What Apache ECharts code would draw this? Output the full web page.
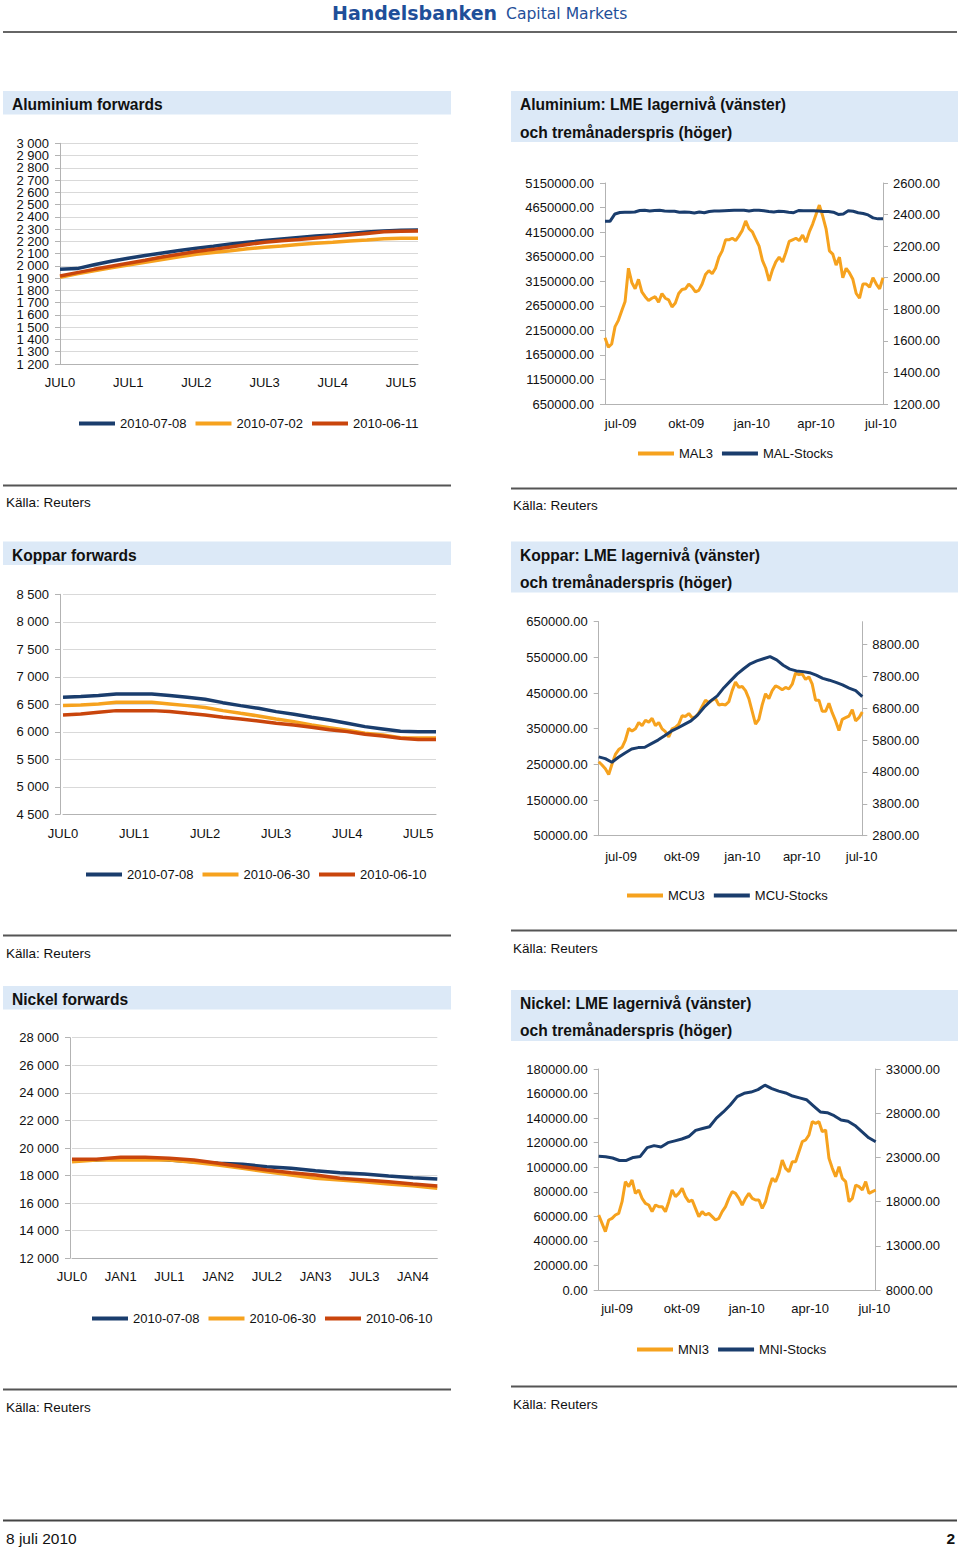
<!DOCTYPE html>
<html><head><meta charset="utf-8">
<script src="https://cdn.jsdelivr.net/npm/echarts@6/dist/echarts.min.js"></script>
<style>html,body{margin:0;padding:0;background:#fff;}#c{width:960px;height:1549px;}</style>
</head><body><div id="c"></div>
<script>
// ---------- DATA ----------
const fwdCategories = ['JUL0','OKT0','JAN1','APR1','JUL1','OKT1','JAN2','APR2','JUL2','OKT2','JAN3','APR3','JUL3','OKT3','JAN4','APR4','JUL4','OKT4','JAN5','APR5','JUL5','OKT5'];
const niCategories = ['JUL0','OKT0','JAN1','APR1','JUL1','OKT1','JAN2','APR2','JUL2','OKT2','JAN3','APR3','JUL3','OKT3','JAN4','APR4'];

const alNames = ['2010-07-08','2010-07-02','2010-06-11'];
const alFwd0708 = [1973,1978,2010,2038,2063,2085,2105,2125,2144,2160,2178,2193,2207,2220,2232,2243,2253,2265,2276,2284,2290,2292];
const alFwd0702 = [1908,1935,1960,1985,2008,2030,2053,2075,2095,2110,2124,2140,2152,2163,2175,2184,2193,2203,2212,2222,2226,2226];
const alFwd0611 = [1918,1945,1972,1998,2022,2046,2072,2095,2117,2135,2155,2175,2193,2205,2216,2228,2239,2252,2265,2278,2283,2285];
// y tick labels of the aluminium forwards chart (drawn in two groups so that none is auto-hidden)
const alFwdTicksMain = [1200,1400,1500,1600,1700,1800,1900,2000,2100,2200,2300,2400,2500,2600,2700,2800,3000];
const alFwdTicksExtra = [1300,2900];

const cuNames = ['2010-07-08','2010-06-30','2010-06-10'];
const cuFwd0708 = [6627,6640,6658,6688,6688,6688,6658,6627,6591,6530,6476,6427,6367,6318,6264,6215,6155,6094,6052,6009,6003,6003];
const cuFwd0630 = [6476,6488,6506,6536,6536,6536,6506,6476,6440,6385,6336,6288,6233,6185,6124,6076,6027,5973,5942,5894,5888,5888];
const cuFwd0610 = [6306,6324,6355,6385,6385,6385,6367,6336,6306,6264,6233,6197,6155,6124,6082,6039,6003,5955,5924,5882,5858,5858];

const niNames = ['2010-07-08','2010-06-30','2010-06-10'];
const niFwd0708 = [19130,19130,19250,19250,19130,19010,18890,18816,18647,18526,18357,18211,18115,17970,17849,17752];
const niFwd0630 = [19010,19130,19130,19130,19130,18960,18767,18526,18284,18042,17800,17680,17559,17390,17269,17075];
const niFwd0610 = [19178,19178,19323,19323,19250,19130,18890,18647,18405,18211,18042,17800,17680,17559,17390,17245];

// LME: three-month price (right axis) and stocks (left axis), evenly spaced over the date range
const alDates = ['2009-06-09','2010-07-04'];
const mal3 = [1620,1560,1580,1690,1730,1790,1850,2060,1970,1930,1990,1910,1880,1855,1870,1880,1845,1900,1870,1860,
  1815,1840,1900,1925,1930,1960,1940,1910,1920,1960,2020,2045,2025,2060,2130,2170,2240,2240,2250,2235,
  2265,2300,2360,2310,2290,2245,2200,2110,2060,1980,2050,2100,2130,2100,2160,2230,2240,2250,2235,2270,
  2225,2290,2340,2400,2460,2390,2310,2170,2150,2080,2130,2000,2060,2030,1990,1900,1870,1960,1960,1940,
  2000,1960,1930,2000];
const malStocks = [4370000,4370000,4520000,4550000,4555000,4555000,4560000,4590000,4595000,4580000,
  4590000,4595000,4580000,4575000,4575000,4555000,4560000,4555000,4540000,4560000,
  4545000,4570000,4580000,4580000,4585000,4590000,4595000,4595000,4595000,4580000,
  4595000,4595000,4585000,4570000,4560000,4575000,4570000,4555000,4545000,4590000,
  4585000,4585000,4585000,4580000,4570000,4570000,4555000,4510000,4520000,4585000,
  4575000,4545000,4530000,4500000,4440000,4420000,4420000];
const alLeftTicks = [650000,1150000,1650000,2150000,2650000,3150000,3650000,4150000,4650000,5150000];
const alRightTicks = [1200,1400,1600,1800,2000,2200,2400,2600];

const cuDates = ['2009-05-28','2010-07-02'];
const mcu3 = [5120,5016,4900,4720,5050,5350,5500,5570,5800,6160,6080,6150,6350,6250,6420,6360,6480,6250,6350,6150,
  6060,5900,6150,6200,6300,6560,6540,6630,6500,6520,6650,6850,7050,6980,7050,7100,6900,6920,6900,7000,
  7350,7620,7450,7480,7350,7100,6700,6300,6450,6900,7250,7100,7350,7500,7450,7380,7450,7400,7550,7900,
  7850,7870,7700,7780,7550,7050,7050,6700,6700,6950,6650,6400,6100,6450,6500,6550,6750,6400,6500,6680];
const mcuStocks = [271000,266000,256000,270000,282000,293000,297000,298000,308000,318000,
  330000,343000,352000,362000,372000,388000,410000,428000,442000,465000,
  484000,503000,518000,532000,540000,546000,552000,543000,528000,517000,
  512000,510000,507000,500000,491000,486000,480000,473000,464000,457000,440000];
const cuLeftTicks = [50000,150000,250000,350000,450000,550000,650000];
const cuRightTicks = [2800,3800,4800,5800,6800,7800,8800];

const niDates = ['2009-06-05','2010-07-03'];
const mni3 = [16484,15541,14599,15918,16107,16484,16673,17992,20255,19689,20443,18935,19312,18370,17804,17615,16861,17615,17427,17427,
  16861,17992,19312,18558,18935,19501,18558,17992,18181,17238,16296,16861,16484,16673,16296,15918,16107,16861,17427,18370,
  19124,18935,18370,17615,18370,18935,18370,18181,18181,17238,17992,19501,20632,20255,21198,22706,21763,21386,22517,22517,
  23648,24780,24968,25534,27042,26854,27042,25911,26100,22894,21763,20820,21952,20632,20255,17992,18370,19878,19689,19312,
  20255,18935,19124,19312];
const mniStocks = [109000,108600,107500,105500,105500,108000,108800,116000,117600,116500,
  120000,121500,123000,125000,130000,131500,133000,140000,145000,150700,
  157500,160200,161200,163200,166800,164000,162000,160500,158000,156500,
  155000,150000,145000,144400,142000,138500,137500,134000,129000,124000,120800];
const niLeftTicks = [0,20000,40000,60000,80000,100000,120000,140000,160000,180000];
const niRightTicks = [8000,13000,18000,23000,28000,33000];

const lmeTickDates = ['2009-07-01','2009-10-01','2010-01-01','2010-04-01','2010-07-01'];
const svMonths = ['jan','feb','mar','apr','maj','jun','jul','aug','sep','okt','nov','dec'];

// ---------- STYLE ----------
const FONT = '"Liberation Sans", Arial, Helvetica, sans-serif';
const C_BLUE = '#1a3d6d', C_ORANGE = '#f6a21e', C_RED = '#c9450c';
const AXIS_GREY = '#b3b3b3', GRID_GREY = '#d9d9d9', TXT = '#111';

function ts(s){ const p = s.split('-').map(Number); return Date.UTC(p[0], p[1]-1, p[2]); }
function spread(range, vals){ const a = ts(range[0]), b = ts(range[1]); return vals.map((v,i)=>[a + i*(b-a)/(vals.length-1), v]); }
function spaced(v){ return String(v).replace(/\B(?=(\d{3})+(?!\d))/g,' '); }
function monLabel(v){ const d = new Date(Number(v)); return svMonths[d.getUTCMonth()] + '-' + String(d.getUTCFullYear()).slice(2); }

const grids = [], xAxes = [], yAxes = [], series = [], legends = [];

function fwdChart(g, cats, labelInterval, yMin, yMax, yInt, offset, names, vals, lblMarginX, legendPos, mainTicks, extraTicks){
  const gi = grids.length;
  grids.push(Object.assign({outerBoundsMode:'none', containLabel:false}, g));
  const xi = xAxes.length, yi = yAxes.length;
  xAxes.push({type:'category', gridIndex:gi, data:cats, boundaryGap:false,
    axisLine:{show:true, lineStyle:{color:AXIS_GREY, width:1}}, axisTick:{show:false},
    axisLabel:{interval:labelInterval, color:TXT, fontSize:13, fontFamily:FONT, margin:lblMarginX},
    splitLine:{show:false}});
  const lbl = {color:TXT, fontSize:13, fontFamily:FONT, margin:11, formatter:spaced,
      showMinLabel:true, showMaxLabel:true, hideOverlap:false};
  if (mainTicks) lbl.customValues = mainTicks;
  yAxes.push({type:'value', gridIndex:gi, min:yMin, max:yMax, interval:yInt, offset:offset,
    axisLine:{show:true, lineStyle:{color:AXIS_GREY, width:1}},
    axisTick:{show:true, length:5, lineStyle:{color:AXIS_GREY}},
    axisLabel:lbl,
    splitLine:{show:true, lineStyle:{color:GRID_GREY, width:1}}});
  if (extraTicks) {
    yAxes.push({type:'value', gridIndex:gi, position:'left', min:yMin, max:yMax, interval:yInt, offset:offset,
      axisLine:{show:false}, axisTick:{show:false}, splitLine:{show:false},
      axisLabel:Object.assign({}, lbl, {customValues:extraTicks})});
  }
  const cols = [C_BLUE, C_ORANGE, C_RED];
  names.forEach((n,k)=>{
    series.push({type:'line', name:n, xAxisIndex:xi, yAxisIndex:yi, data:vals[k], color:cols[k],
      showSymbol:false, symbol:'none', lineStyle:{width:3.5, color:cols[k]}, animation:false, z:2+k});
  });
  legends.push(Object.assign({data:names}, legendPos));
}

function lmeChart(g, range, leftMin, leftMax, leftTicks, rightMin, rightMax, rightTicks, priceName, stockName, price, stocks, lblMarginX, legendPos){
  const gi = grids.length;
  grids.push(Object.assign({outerBoundsMode:'none', containLabel:false}, g));
  const xi = xAxes.length, yl = yAxes.length;
  const tickTs = lmeTickDates.map(ts);
  xAxes.push({type:'value', gridIndex:gi, min:ts(range[0]), max:ts(range[1]), scale:true,
    axisLine:{show:true, onZero:false, lineStyle:{color:AXIS_GREY, width:1}}, axisTick:{show:false},
    axisLabel:{customValues:tickTs, formatter:monLabel, color:TXT, fontSize:13, fontFamily:FONT, margin:lblMarginX, hideOverlap:false},
    splitLine:{show:false}, minorTick:{show:false}});
  yAxes.push({type:'value', gridIndex:gi, position:'left', min:leftMin, max:leftMax,
    axisLine:{show:true, onZero:false, lineStyle:{color:AXIS_GREY, width:1}},
    axisTick:{show:true, length:5, customValues:leftTicks, lineStyle:{color:AXIS_GREY}},
    axisLabel:{customValues:leftTicks, color:TXT, fontSize:13, fontFamily:FONT, margin:11, formatter:v=>Number(v).toFixed(2), hideOverlap:false},
    splitLine:{show:false}});
  yAxes.push({type:'value', gridIndex:gi, position:'right', min:rightMin, max:rightMax,
    axisLine:{show:true, onZero:false, lineStyle:{color:AXIS_GREY, width:1}},
    axisTick:{show:true, length:5, customValues:rightTicks, lineStyle:{color:AXIS_GREY}},
    axisLabel:{customValues:rightTicks, color:TXT, fontSize:13, fontFamily:FONT, margin:10, formatter:v=>Number(v).toFixed(2), hideOverlap:false},
    splitLine:{show:false}});
  series.push({type:'line', name:priceName, xAxisIndex:xi, yAxisIndex:yl+1, data:spread(range, price), color:C_ORANGE,
    showSymbol:false, symbol:'none', lineStyle:{width:3, color:C_ORANGE}, animation:false, z:2});
  series.push({type:'line', name:stockName, xAxisIndex:xi, yAxisIndex:yl, data:spread(range, stocks), color:C_BLUE,
    showSymbol:false, symbol:'none', lineStyle:{width:3, color:C_BLUE}, animation:false, z:3});
  legends.push(Object.assign({data:[priceName, stockName]}, legendPos));
}

fwdChart({left:60, top:143.3, width:358, height:220.7}, fwdCategories, 3, 1200, 3000, 100, 0, alNames,
  [alFwd0708, alFwd0702, alFwd0611], 11.5, {left:79, top:417}, alFwdTicksMain, alFwdTicksExtra);
lmeChart({left:605, top:183, width:278, height:221}, alDates, 650000, 5150000, alLeftTicks, 1200, 2600, alRightTicks,
  'MAL3', 'MAL-Stocks', mal3, malStocks, 12.5, {left:638, top:447});
fwdChart({left:63, top:594.3, width:373, height:220}, fwdCategories, 3, 4500, 8500, 500, 3, cuNames,
  [cuFwd0708, cuFwd0630, cuFwd0610], 12.5, {left:86, top:868});
lmeChart({left:598.7, top:621.7, width:263.6, height:214}, cuDates, 50000, 650000, cuLeftTicks, 2800, 9510, cuRightTicks,
  'MCU3', 'MCU-Stocks', mcu3, mcuStocks, 14.5, {left:627, top:889});
fwdChart({left:72, top:1037.7, width:365.3, height:220.6}, niCategories, 1, 12000, 28000, 2000, 2, niNames,
  [niFwd0708, niFwd0630, niFwd0610], 12, {left:92, top:1312});
lmeChart({left:598.7, top:1069, width:277, height:221}, niDates, 0, 180000, niLeftTicks, 8000, 33000, niRightTicks,
  'MNI3', 'MNI-Stocks', mni3, mniStocks, 12, {left:637, top:1343});

legends.forEach(l=>{
  Object.assign(l, {orient:'horizontal', padding:0, itemWidth:36, itemHeight:4, itemGap:9, icon:'rect',
    selectedMode:false, textStyle:{color:TXT, fontSize:13, fontFamily:FONT}});
});

// ---------- PAGE GRAPHICS ----------
function txt(x, y, t, font, fill, align){
  return {type:'text', x:x, y:y, silent:true,
    style:{text:t, font:font, fill:fill||TXT, textAlign:align||'left', textVerticalAlign:'middle'}};
}
function box(x, y, w, h, col){ return {type:'rect', silent:true, shape:{x:x, y:y, width:w, height:h}, style:{fill:col}}; }
function hline(x1, x2, y, col, w){ return {type:'line', silent:true, shape:{x1:x1, y1:y, x2:x2, y2:y}, style:{stroke:col, lineWidth:w}}; }

const TITLE_BG = '#dce9f7';
const TFONT = 'bold 15.6px ' + FONT;
const SFONT = '13.5px ' + FONT;
const graphics = [
  txt(332, 13, 'Handelsbanken', 'bold 19px "DejaVu Sans", sans-serif', '#1f4f99'),
  txt(506, 14, 'Capital Markets', '15.6px "DejaVu Sans", sans-serif', '#1f4f99'),
  hline(3, 957, 32, '#333', 1.5),

  box(3, 91, 448, 23.5, TITLE_BG), txt(12, 104, 'Aluminium forwards', TFONT),
  box(511, 91, 447, 51, TITLE_BG), txt(520, 104, 'Aluminium: LME lagernivå (vänster)', TFONT), txt(520, 132, 'och tremånaderspris (höger)', TFONT),
  hline(3, 451, 485.5, '#555', 2), txt(6, 502, 'Källa: Reuters', SFONT),
  hline(511, 957, 488.5, '#555', 2), txt(513, 505, 'Källa: Reuters', SFONT),

  box(3, 541.5, 448, 23.5, TITLE_BG), txt(12, 555, 'Koppar forwards', TFONT),
  box(511, 541.5, 447, 51, TITLE_BG), txt(520, 555, 'Koppar: LME lagernivå (vänster)', TFONT), txt(520, 582, 'och tremånaderspris (höger)', TFONT),
  hline(3, 451, 935.5, '#555', 2), txt(6, 953, 'Källa: Reuters', SFONT),
  hline(511, 957, 930.5, '#555', 2), txt(513, 948, 'Källa: Reuters', SFONT),

  box(3, 986, 448, 23.5, TITLE_BG), txt(12, 999, 'Nickel forwards', TFONT),
  box(511, 990, 447, 51, TITLE_BG), txt(520, 1003, 'Nickel: LME lagernivå (vänster)', TFONT), txt(520, 1030, 'och tremånaderspris (höger)', TFONT),
  hline(3, 451, 1389.5, '#555', 2), txt(6, 1407, 'Källa: Reuters', SFONT),
  hline(511, 957, 1386.5, '#555', 2), txt(513, 1404, 'Källa: Reuters', SFONT),

  hline(3, 957, 1520.5, '#444', 2),
  txt(6, 1538, '8 juli 2010', '15.5px ' + FONT),
  txt(955, 1538, '2', 'bold 15.5px ' + FONT, TXT, 'right')
];

const chart = echarts.init(document.getElementById('c'), null, {renderer:'svg', width:960, height:1549});
chart.setOption({
  animation:false,
  backgroundColor:'#ffffff',
  textStyle:{fontFamily:FONT},
  grid:grids, xAxis:xAxes, yAxis:yAxes, series:series, legend:legends,
  graphic:{elements:graphics},
  tooltip:{show:false}
});
</script></body></html>
